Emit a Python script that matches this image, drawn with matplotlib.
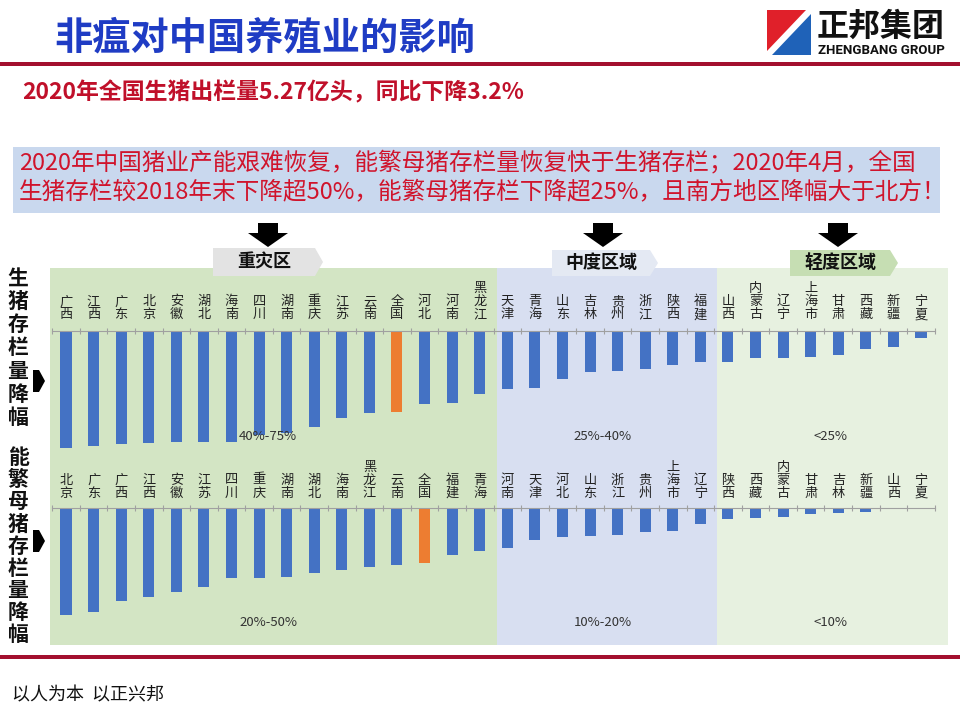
import numpy as np
import matplotlib.pyplot as plt
from matplotlib.patches import Polygon, Rectangle

plt.rcParams['font.family'] = ['Noto Sans CJK SC', 'DejaVu Sans']

# 生猪存栏量降幅 (%)
hog_regions = ['广西', '江西', '广东', '北京', '安徽', '湖北', '海南', '四川', '湖南', '重庆',
               '江苏', '云南', '全国', '河北', '河南', '黑龙江',
               '天津', '青海', '山东', '吉林', '贵州', '浙江', '陕西', '福建',
               '山西', '内蒙古', '辽宁', '上海市', '甘肃', '西藏', '新疆', '宁夏']
hog_drop = [74.9, 73.6, 72.3, 71.7, 71.0, 71.0, 71.0, 66.6, 65.3, 61.4,
            55.7, 52.5, 51.8, 46.7, 46.1, 40.3,
            37.1, 36.5, 30.7, 26.2, 25.6, 24.3, 21.8, 19.8,
            19.8, 17.3, 17.3, 16.6, 15.4, 11.5, 10.2, 4.5]

# 能繁母猪存栏量降幅 (%)
sow_regions = ['北京', '广东', '广西', '江西', '安徽', '江苏', '四川', '重庆', '湖南', '湖北',
               '海南', '黑龙江', '云南', '全国', '福建', '青海',
               '河南', '天津', '河北', '山东', '浙江', '贵州', '上海市', '辽宁',
               '陕西', '西藏', '内蒙古', '甘肃', '吉林', '新疆', '山西', '宁夏']
sow_drop = [50.3, 48.9, 43.7, 41.8, 39.5, 37.1, 32.9, 32.9, 32.4, 30.6,
            29.1, 27.7, 26.8, 25.9, 22.1, 20.2,
            18.8, 15.0, 13.6, 13.2, 12.7, 11.3, 10.8, 7.5,
            5.2, 4.7, 4.2, 2.8, 2.4, 1.9, 0.7, 0.4]

zone_names = ['重灾区', '中度区域', '轻度区域']
hog_ranges = ['40%-75%', '25%-40%', '<25%']
sow_ranges = ['20%-50%', '10%-20%', '<10%']

W, H = 960, 720
fig = plt.figure(figsize=(9.6, 7.2), dpi=100)
bg = fig.add_axes([0, 0, 1, 1])
bg.set_xlim(0, W)
bg.set_ylim(H, 0)
bg.axis('off')


def px_axes(x0, y0, x1, y1):
    return fig.add_axes([x0 / W, 1 - y1 / H, (x1 - x0) / W, (y1 - y0) / H])


# header
bg.text(54, 38, '非瘟对中国养殖业的影响', fontsize=27.5, fontweight='heavy', color='#1f3cc4', va='center')
bg.add_patch(Rectangle((0, 62), W, 4, color='#a3102e', lw=0))
bg.add_patch(Polygon([(767, 10), (806, 10), (767, 51)], color='#e0202a', lw=0))
bg.add_patch(Polygon([(811, 14), (811, 55), (772, 55)], color='#1f62b8', lw=0))
bg.text(881, 27, '正邦集团', fontsize=23, fontweight='heavy', color='#111111', ha='center', va='center')
bg.text(881, 51, 'ZHENGBANG GROUP', fontsize=9.5, fontweight='bold', family='Roboto',
        color='#111111', ha='center', va='center')

bg.text(22, 93, '2020年全国生猪出栏量5.27亿头，同比下降3.2%', fontsize=16.5, fontweight='bold',
        color='#c0102a', va='center')

bg.add_patch(Rectangle((13, 147), 927, 66, color='#c9d8ee', lw=0))
bg.text(19, 162, '2020年中国猪业产能艰难恢复，能繁母猪存栏量恢复快于生猪存栏；2020年4月，全国',
        fontsize=17, color='#d0142c', va='center')
bg.text(19, 193, '生猪存栏较2018年末下降超50%，能繁母猪存栏下降超25%，且南方地区降幅大于北方！',
        fontsize=17, color='#d0142c', va='center')

# zones
zone_x = [(50, 497), (497, 717), (717, 948)]
zone_colors = ['#d3e5c4', '#d8dff1', '#e7f1e0']
for (x0, x1), c in zip(zone_x, zone_colors):
    bg.add_patch(Rectangle((x0, 268), x1 - x0, 377, color=c, lw=0))

tags = [(213, 315, 248, '#e3e3e3'), (552, 650, 250, '#e4e9f3'), (790, 890, 250, '#c6deb3')]
arrow_x = [268, 603, 838]
for (x0, x1, y0, c), name, cx in zip(tags, zone_names, arrow_x):
    y1 = 276
    bg.add_patch(Polygon([(x0, y0), (x1, y0), (x1 + 8, (y0 + y1) / 2), (x1, y1), (x0, y1)],
                         color=c, lw=0))
    bg.text((x0 + x1) / 2, (y0 + y1) / 2, name, fontsize=13, fontweight='bold',
            color='#111111', ha='center', va='center')
    bg.add_patch(Polygon([(cx - 10, 223), (cx + 10, 223), (cx + 10, 233), (cx + 20, 233),
                          (cx, 247), (cx - 20, 233), (cx - 10, 233)], color='#000000', lw=0))

# range labels sit above the bars
zone_label_x = [268, 603, 830]
for lx, t in zip(zone_label_x, hog_ranges):
    fig.text(lx / W, 1 - 437 / H, t, fontsize=9.5, color='#333333', ha='center', va='center')
for lx, t in zip(zone_label_x, sow_ranges):
    fig.text(lx / W, 1 - 622 / H, t, fontsize=9.5, color='#333333', ha='center', va='center')

# left side titles
bg.text(18, 348, '\n'.join('生猪存栏量降幅'), fontsize=15, fontweight='bold', color='#111111',
        ha='center', va='center', linespacing=1.13)
bg.text(18, 546, '\n'.join('能繁母猪存栏量降幅'), fontsize=15, fontweight='bold', color='#111111',
        ha='center', va='center', linespacing=1.06)
for cy in [381, 541]:
    bg.add_patch(Polygon([(33, cy - 11), (39, cy - 11), (45, cy), (39, cy + 11), (33, cy + 11)],
                         color='#000000', lw=0))

# footer
bg.add_patch(Rectangle((0, 655), W, 4, color='#a3102e', lw=0))
bg.text(12, 695, '以人为本  以正兴邦', fontsize=13, fontweight='medium', color='#111111', va='center')


def bar_panel(ax, regions, values, ymax, label_off):
    x = np.arange(len(regions))
    colors = ['#ed7d31' if r == '全国' else '#4472c4' for r in regions]
    ax.bar(x, values, width=0.4, color=colors)
    ax.set_xlim(-0.5, len(regions) - 0.5)
    ax.set_ylim(ymax, 0)
    ax.patch.set_alpha(0)
    for s in ['left', 'right', 'bottom']:
        ax.spines[s].set_visible(False)
    ax.spines['top'].set_color('#a0a0a0')
    ax.spines['top'].set_linewidth(0.8)
    ax.xaxis.tick_top()
    ax.set_xticks(np.arange(-0.5, len(regions), 1))
    ax.tick_params(axis='x', direction='inout', length=5, color='#a0a0a0', labeltop=False)
    ax.set_yticks([])
    for i, r in enumerate(regions):
        ax.annotate('\n'.join(r), xy=(i, 0), xytext=(0, label_off), textcoords='offset points',
                    ha='center', va='bottom', fontsize=9.5, linespacing=1.0, color='#222222',
                    annotation_clip=False)


ax1 = px_axes(52.2, 331, 934.8, 331 + 80 / 0.64)
bar_panel(ax1, hog_regions, hog_drop, 80, 7)
ax2 = px_axes(52.2, 508, 934.8, 508 + 55 / 0.47)
bar_panel(ax2, sow_regions, sow_drop, 55, 6)

fig.savefig('out.png', dpi=100)
